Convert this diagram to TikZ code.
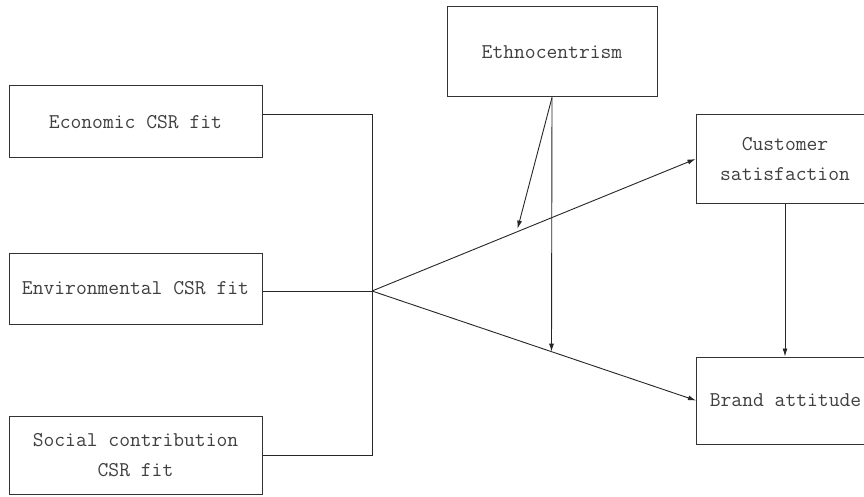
\documentclass[tikz,border=0pt]{standalone}
\usetikzlibrary{arrows.meta}
\begin{document}
\begin{tikzpicture}[x=1pt,y=-1pt,
  box/.style={draw=black!80, line width=1pt, rectangle, inner sep=0pt,
    align=center, text=black!75, font=\ttfamily\fontsize{21}{30}\selectfont},
  link/.style={draw=black!85, line width=0.9pt},
  arr/.style={link, -{Latex[length=8pt,width=5pt]}}]
\clip (0,0) rectangle (864,497);
\fill[white] (0,0) rectangle (864,497);
\node[box, minimum width=253pt, minimum height=72pt] (econ) at (135.5,122) {Economic CSR fit};
\node[box, minimum width=253pt, minimum height=71pt] (env) at (135.5,288.5) {Environmental CSR fit};
\node[box, minimum width=253pt, minimum height=78pt] (social) at (135.5,455) {Social contribution\\CSR fit};
\node[box, minimum width=210pt, minimum height=90pt] (ethno) at (552,52) {Ethnocentrism};
\node[box, minimum width=178pt, minimum height=88pt] (cs) at (785,159) {Customer\\satisfaction};
\node[box, minimum width=178pt, minimum height=87pt] (brand) at (785.5,400.5) {Brand attitude};
\coordinate (j) at (372,291);
\draw[link] ([yshift=8pt]econ.east) -| (j);
\draw[link] (social.east) -| (j);
\draw[link] ([yshift=-2.5pt]env.east) -- (j);
\draw[arr] (j) -- (cs.west) coordinate[pos=0.45] (m1);
\draw[arr] (j) -- (brand.west) coordinate[pos=0.554] (m2);
\draw[arr] (ethno.south) -- ([yshift=3pt]m1);
\draw[arr] (ethno.south) -- (m2);
\draw[arr] (cs.south) -- (cs.south |- brand.north);
\end{tikzpicture}
\end{document}
